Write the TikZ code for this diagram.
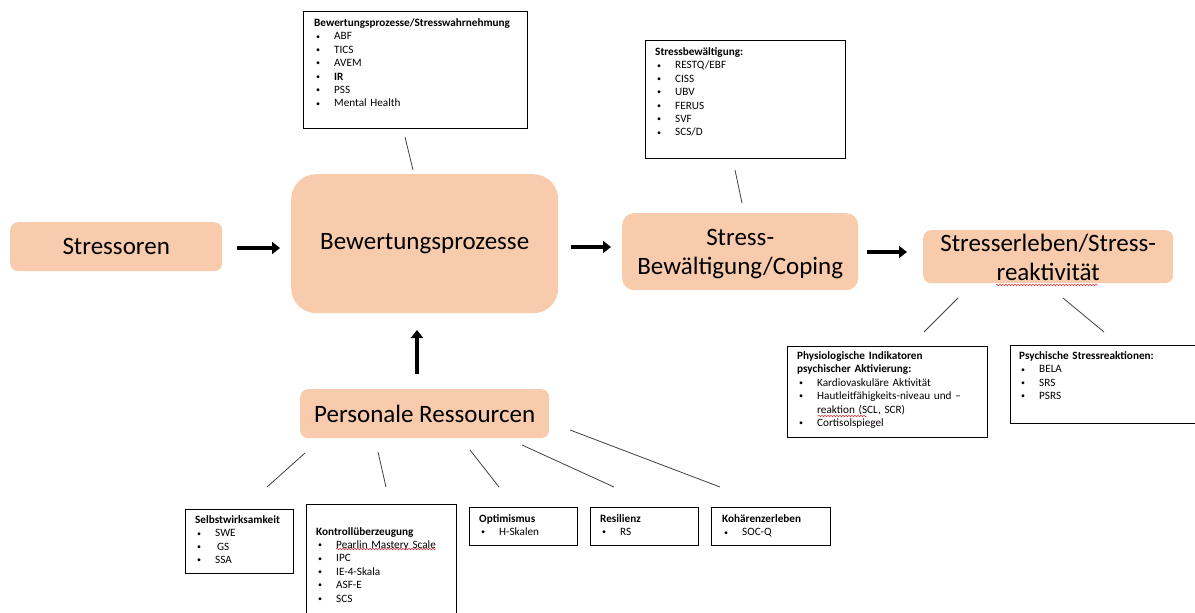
\documentclass[tikz,border=0pt]{standalone}
\usepackage{fontspec}
\setmainfont{Carlito}
\usetikzlibrary{arrows.meta,decorations.pathmorphing}
\definecolor{peach}{HTML}{F8CBAD}
\definecolor{connc}{HTML}{404040}
\definecolor{spell}{HTML}{E03030}
\newcommand\bul{\hspace*{2pt}\makebox[18pt][l]{\raisebox{0.8pt}{\fontsize{8}{8}\selectfont\textbullet}}}
\newcommand\ind{\hspace*{20pt}}
\begin{document}
\begin{tikzpicture}[x=1pt,y=-1pt,
  mainbox/.style={fill=peach, draw=none, inner sep=0pt, anchor=north west},
  maintext/.style={font=\fontsize{25}{29.5}\selectfont, align=center, inner sep=0pt},
  listbox/.style={draw=black, line width=1.3pt, inner sep=0pt, anchor=north west},
  listtext/.style={font=\fontsize{11.2}{13.4}\selectfont, inner sep=0pt, anchor=base west, text width=#1, align=left},
  flow/.style={line width=4.5pt, -{Triangle[length=8pt,width=12pt]}},
  conn/.style={draw=connc, line width=0.8pt},
  squig/.style={draw=spell, line width=0.5pt, decorate, decoration={snake, amplitude=0.8pt, segment length=3pt}}]
\useasboundingbox (0,0) rectangle (1195,613);
\clip (0,0) rectangle (1195,613);

% main boxes
\node[mainbox, minimum width=212, minimum height=49, rounded corners=8pt] (stressoren) at (10,222) {};
\node[maintext] (tstressoren) at (stressoren.center) {Stressoren};

\node[mainbox, minimum width=267, minimum height=139, rounded corners=25pt] (bew) at (291,174) {};
\node[maintext] (tbew) at (bew.center) {Bewertungsprozesse};

\node[mainbox, minimum width=236, minimum height=77, rounded corners=12pt] (coping) at (622,213) {};
\node[maintext] (tcoping) at ([yshift=-2.5]coping.center) {Stress-\\Bewältigung/Coping};

\node[mainbox, minimum width=250, minimum height=53, rounded corners=8pt] (erleben) at (923,230) {};
\node[maintext] (terleben) at ([yshift=-0.5]erleben.center) {Stresserleben/Stress-\\reaktivität};

\node[mainbox, minimum width=249, minimum height=49, rounded corners=8pt] (personal) at (300,389) {};
\node[maintext] (tpersonal) at (personal.center) {Personale Ressourcen};

% flow arrows
\coordinate (a1s) at (237,248); \coordinate (a1e) at (280,248);
\coordinate (a2s) at (571,247); \coordinate (a2e) at (611,247);
\coordinate (a3s) at (867,252); \coordinate (a3e) at (907,252);
\coordinate (a4s) at (417,374); \coordinate (a4e) at (417,330);
\draw[flow] (a1s) -- (a1e);
\draw[flow] (a2s) -- (a2e);
\draw[flow] (a3s) -- (a3e);
\draw[flow] (a4s) -- (a4e);

% list boxes
\node[listbox, minimum width=224, minimum height=117] (lbew) at (303,11) {};
\node[listtext=218pt] (tlbew) at (314,26.5) {\textbf{Bewertungsprozesse/Stresswahrnehmung}\\
\bul ABF\\ \bul TICS\\ \bul AVEM\\ \bul \textbf{IR}\\ \bul PSS\\ \bul Mental Health};

\node[listbox, minimum width=200, minimum height=118] (lcop) at (645,40) {};
\node[listtext=190pt] (tlcop) at (655,55.5) {\textbf{Stressbewältigung:}\\
\bul RESTQ/EBF\\ \bul CISS\\ \bul UBV\\ \bul FERUS\\ \bul SVF\\ \bul SCS/D};

\node[listbox, minimum width=200, minimum height=91] (lphys) at (787,346) {};
\node[listtext=195pt] (tlphys) at (797,359.5) {\textbf{Physiologische Indikatoren}\\ \textbf{psychischer Aktivierung:}\\
\bul Kardiovaskuläre Aktivität\\ \bul Hautleitfähigkeits-niveau und --\\ \ind reaktion (SCL, SCR)\\ \bul Cortisolspiegel};

\node[listbox, minimum width=200, minimum height=78] (lpsy) at (1010,345) {};
\node[listtext=180pt] (tlpsy) at (1019,359.5) {\textbf{Psychische Stressreaktionen:}\\
\bul BELA\\ \bul SRS\\ \bul PSRS};

\node[listbox, minimum width=108, minimum height=64] (lselbst) at (185,509) {};
\node[listtext=100pt] (tlselbst) at (195,523.5) {\textbf{Selbstwirksamkeit}\\
\bul SWE\\ \bul \,GS\\ \bul SSA};

\node[listbox, minimum width=150, minimum height=120] (lkon) at (306,504) {};
\node[listtext=140pt] (tlkon) at (316,535) {\textbf{Kontrollüberzeugung}\\
\bul Pearlin Mastery Scale\\ \bul IPC\\ \bul IE-4-Skala\\ \bul ASF-E\\ \bul SCS};

\node[listbox, minimum width=108, minimum height=38] (lopt) at (469,507) {};
\node[listtext=100pt] (tlopt) at (479,522) {\textbf{Optimismus}\\ \bul H-Skalen};

\node[listbox, minimum width=108, minimum height=38] (lres) at (590,507) {};
\node[listtext=100pt] (tlres) at (600,522) {\textbf{Resilienz}\\ \bul RS};

\node[listbox, minimum width=119, minimum height=38] (lkoh) at (711,507) {};
\node[listtext=110pt] (tlkoh) at (722,522.5) {\textbf{Kohärenzerleben}\\ \bul SOC-Q};

% spelling marks
\coordinate (s1a) at (996,285); \coordinate (s1b) at (1098,285);
\coordinate (s2a) at (818,416); \coordinate (s2b) at (867,416);
\coordinate (s3a) at (336,549); \coordinate (s3b) at (436,549);
\draw[squig] (s1a) -- (s1b);
\draw[squig] (s2a) -- (s2b);
\draw[squig] (s3a) -- (s3b);

% connector lines
\coordinate (c1a) at (405,137); \coordinate (c1b) at (413,170);
\coordinate (c2a) at (735,170); \coordinate (c2b) at (742,203);
\coordinate (c3a) at (958,298); \coordinate (c3b) at (924,332);
\coordinate (c4a) at (1063,298); \coordinate (c4b) at (1104,332);
\coordinate (c5a) at (305,453); \coordinate (c5b) at (267,487);
\coordinate (c6a) at (378,452); \coordinate (c6b) at (386,487);
\coordinate (c7a) at (470,450); \coordinate (c7b) at (499,487);
\coordinate (c8a) at (522,445); \coordinate (c8b) at (614,487);
\coordinate (c9a) at (570,430); \coordinate (c9b) at (720,487);
\foreach \c in {1,...,9} {\draw[conn] (c\c a) -- (c\c b);}
\end{tikzpicture}
\end{document}
